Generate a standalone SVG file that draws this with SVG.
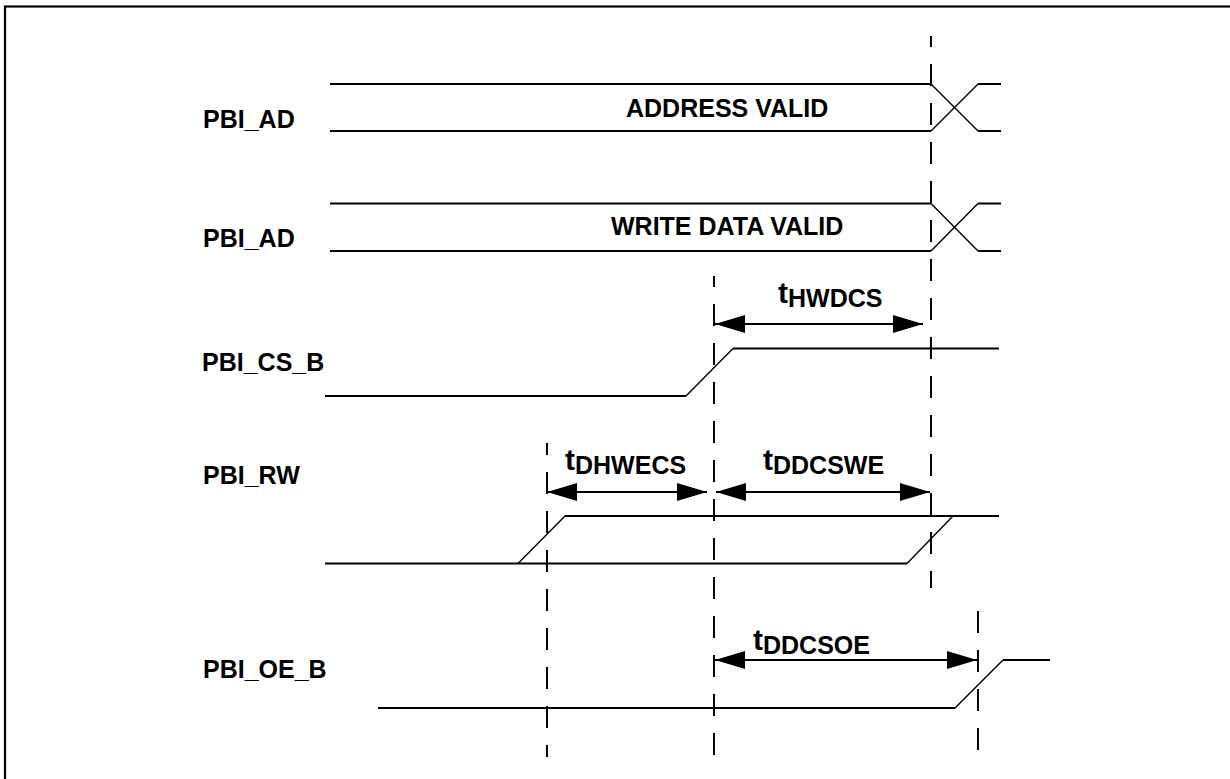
<svg xmlns="http://www.w3.org/2000/svg" width="1230" height="779" viewBox="0 0 1230 779">
<style>
.lbl{font-family:"Liberation Sans",Arial,sans-serif;font-weight:bold;font-size:25px;fill:#000}
.tl{font-family:"Liberation Sans",Arial,sans-serif;font-weight:bold;font-size:30px;fill:#000}
.sub{font-size:25px}
.sig{fill:none;stroke:#000;stroke-width:2}
.edge{fill:none;stroke:#000;stroke-width:1.4}
.dash{fill:none;stroke:#000;stroke-width:2;stroke-dasharray:22 17}
.arr{fill:none;stroke:#000;stroke-width:2;marker-start:url(#ah);marker-end:url(#ah)}
</style>
<defs>
<marker id="ah" markerUnits="userSpaceOnUse" markerWidth="30" markerHeight="20" refX="30" refY="9" orient="auto-start-reverse" viewBox="0 0 30 18">
<path d="M0,0 L30,9 L0,18 Z" fill="#000"/>
</marker>
</defs>
<rect x="0" y="0" width="1230" height="779" fill="#fff"/>
<rect x="5" y="6.5" width="1240" height="800" fill="none" stroke="#000" stroke-width="2.2"/>

<g id="guides">
<line class="dash" x1="931" y1="36" x2="931" y2="588" stroke-dashoffset="11"/>
<line class="dash" x1="714" y1="276" x2="714" y2="757" stroke-dashoffset="11"/>
<line class="dash" x1="547" y1="443" x2="547" y2="757" stroke-dashoffset="10"/>
<line class="dash" x1="978" y1="611" x2="978" y2="757"/>
</g>

<g id="pbi_ad_addr">
<text class="lbl" x="203" y="128">PBI_AD</text>
<path class="sig" d="M330,84 H931 M330,131 H931 M978,84 H1001 M978,131 H1001"/>
<path class="edge" d="M931,84 L978,131 M931,131 L978,84"/>
<text class="lbl" x="626" y="117">ADDRESS VALID</text>
</g>

<g id="pbi_ad_data">
<text class="lbl" x="203" y="247">PBI_AD</text>
<path class="sig" d="M330,203.5 H931 M330,251 H931 M978,203.5 H1001 M978,251 H1001"/>
<path class="edge" d="M931,203.5 L978,251 M931,251 L978,203.5"/>
<text class="lbl" x="611" y="235">WRITE DATA VALID</text>
</g>

<g id="pbi_cs_b">
<text class="lbl" x="202" y="371">PBI_CS_B</text>
<path class="sig" d="M325,396 H686 M733,348.5 H999"/>
<path class="edge" d="M686,396 L733,348.5"/>
</g>

<g id="pbi_rw">
<text class="lbl" x="203" y="484">PBI_RW</text>
<path class="sig" d="M325,563.5 H907 M565,516 H999"/>
<path class="edge" d="M518,563.5 L565,516 M907,563.5 L953,516"/>
</g>

<g id="pbi_oe_b">
<text class="lbl" x="203" y="678">PBI_OE_B</text>
<path class="sig" d="M378,708 H955 M1003,660 H1050"/>
<path class="edge" d="M955,708 L1003,660"/>
</g>

<g id="connectors">
<line class="arr" x1="715" y1="324" x2="923" y2="324"/>
<line class="arr" x1="547" y1="492" x2="707" y2="492"/>
<line class="arr" x1="716" y1="492" x2="930" y2="492"/>
<line class="arr" x1="715" y1="660" x2="977" y2="660"/>
</g>

<g id="timing-labels">
<text class="tl" x="778" y="303">t<tspan class="sub" dy="4">HWDCS</tspan></text>
<text class="tl" x="565" y="470">t<tspan class="sub" dy="4">DHWECS</tspan></text>
<text class="tl" x="763" y="470">t<tspan class="sub" dy="4">DDCSWE</tspan></text>
<text class="tl" x="753" y="650">t<tspan class="sub" dy="4">DDCSOE</tspan></text>
</g>
</svg>
